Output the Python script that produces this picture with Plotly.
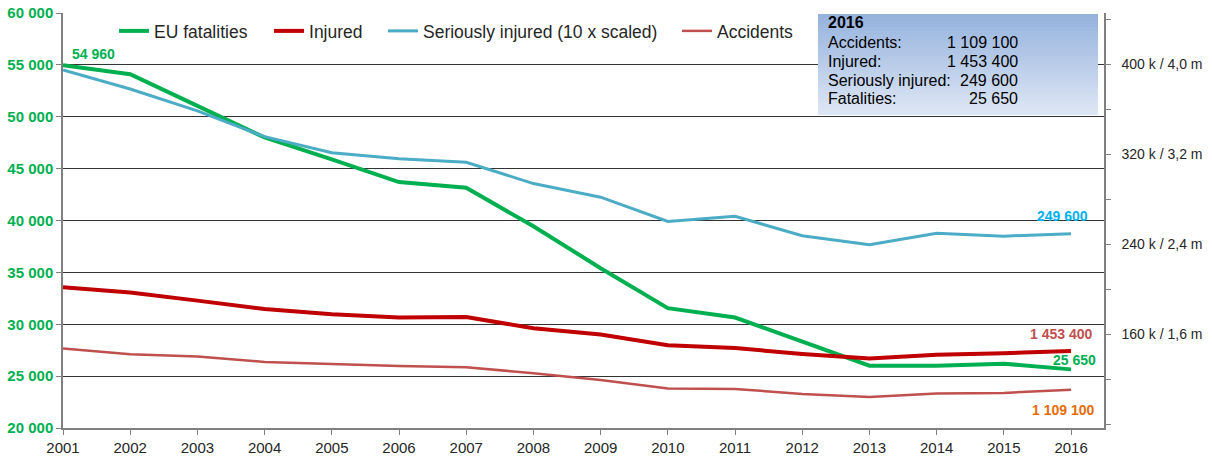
import plotly.graph_objects as go

# Dados
years = list(range(2001, 2017))
fatalities = [54960, 54100, 51050, 48000, 45900, 43700, 43150, 39450,
              35400, 31550, 30650, 28300, 26000, 26000, 26200, 25650]
injured = [2019000, 1974000, 1901000, 1826000, 1779000, 1750000, 1755000, 1655000,
           1599000, 1504000, 1480000, 1427000, 1386000, 1421000, 1433000, 1453400]
seriously_injured = [395000, 378200, 358700, 335800, 321600, 316100, 313000, 294100,
                     282000, 260400, 265100, 247700, 239700, 249900, 247400, 249600]
accidents = [1475000, 1424000, 1404000, 1356000, 1338000, 1320000, 1309000, 1256000,
             1196000, 1120000, 1116000, 1072000, 1045000, 1075000, 1081000, 1109100]

serious_scale = 10
right_tickvals = [800000, 1200000, 1600000, 2000000, 2400000, 2800000,
                  3200000, 3600000, 4000000, 4400000]
right_ticktext = ["", "", "160 k / 1,6 m", "", "240 k / 2,4 m", "",
                  "320 k / 3,2 m", "", "400 k / 4,0 m", ""]

GREEN = "#00B050"
FONT = "Liberation Sans, Arial, sans-serif"


def fmt(v):
    return f"{v:,.0f}".replace(",", " ")


fig = go.Figure()
fig.add_trace(go.Scatter(x=years, y=fatalities, name="EU fatalities", mode="lines",
                         line=dict(color=GREEN, width=4), legend="legend"))
fig.add_trace(go.Scatter(x=years, y=injured, name="Injured", mode="lines",
                         line=dict(color="#C00000", width=4), yaxis="y2", legend="legend2"))
fig.add_trace(go.Scatter(x=years, y=[v * serious_scale for v in seriously_injured],
                         name="Seriously injured (10 x scaled)", mode="lines",
                         line=dict(color="#4BACC6", width=3), yaxis="y2", legend="legend3"))
fig.add_trace(go.Scatter(x=years, y=accidents, name="Accidents", mode="lines",
                         line=dict(color="#C0504D", width=2.5), yaxis="y2", legend="legend4"))

# Rótulos de dados
labels = [
    dict(x=years[0], y=fatalities[0], yref="y", text=fmt(fatalities[0]), color=GREEN,
         xanchor="left", xshift=7, yshift=11),
    dict(x=years[-1], y=seriously_injured[-1] * serious_scale, yref="y2",
         text=fmt(seriously_injured[-1]), color="#00B0F0", xanchor="right", xshift=19, yshift=18),
    dict(x=years[-1], y=injured[-1], yref="y2", text=fmt(injured[-1]), color="#C0504D",
         xanchor="right", xshift=23, yshift=17),
    dict(x=years[-1], y=fatalities[-1], yref="y", text=fmt(fatalities[-1]), color=GREEN,
         xanchor="right", xshift=27, yshift=9),
    dict(x=years[-1], y=accidents[-1], yref="y2", text=fmt(accidents[-1]), color="#E46C0A",
         xanchor="right", xshift=25, yshift=-20),
]
for lb in labels:
    fig.add_annotation(x=lb["x"], y=lb["y"], xref="x", yref=lb["yref"], text=lb["text"],
                       showarrow=False, xanchor=lb["xanchor"], yanchor="middle",
                       xshift=lb["xshift"], yshift=lb["yshift"],
                       font=dict(family=FONT, size=14, color=lb["color"], weight="bold"))

# Caixa 2016 (gradiente em faixas sobrepostas)
bx0, bx1, by0, by1 = 0.7253, 0.9942, 0.754, 0.9976
top_rgb, bot_rgb = (150, 179, 222), (221, 230, 244)
n_bands = 30
for i in range(n_bands):
    t = i / (n_bands - 1)
    c = tuple(round(bot_rgb[k] + (top_rgb[k] - bot_rgb[k]) * t) for k in range(3))
    fig.add_shape(type="rect", xref="paper", yref="paper", layer="above",
                  x0=bx0, x1=bx1, y0=by0 + (by1 - by0) * i / n_bands, y1=by1,
                  line=dict(width=0), fillcolor="rgb(%d,%d,%d)" % c)

box_labels = [str(years[-1]), "Accidents:", "Injured:", "Seriously injured:", "Fatalities:"]
box_values = ["", fmt(accidents[-1]), fmt(injured[-1]), fmt(seriously_injured[-1]), fmt(fatalities[-1])]
row_y = [23, 42, 61, 80, 99]
for i, (lab, val) in enumerate(zip(box_labels, box_values)):
    yp = (428 - row_y[i]) / 415
    fig.add_annotation(x=0.7330, y=yp, xref="paper", yref="paper", text=lab, showarrow=False,
                       xanchor="left", yanchor="middle",
                       font=dict(family=FONT, size=16, color="black",
                                 weight="bold" if i == 0 else "normal"))
    if val:
        fig.add_annotation(x=0.9193, y=yp, xref="paper", yref="paper", text=val, showarrow=False,
                           xanchor="right", yanchor="middle",
                           font=dict(family=FONT, size=16, color="black"))

# uma legenda por série, para reproduzir os espaçamentos
legend_x = [0.049, 0.1979, 0.3074, 0.5898]
leg_common = dict(orientation="h", y=0.9566, xanchor="left", yanchor="middle",
                  bgcolor="rgba(0,0,0,0)", font=dict(family=FONT, size=17.5, color="#262626"))

fig.update_layout(
    width=1212, height=458,
    margin=dict(l=63, r=108, t=13, b=30),
    paper_bgcolor="white", plot_bgcolor="white",
    separators=", ",
    showlegend=True,
    legend=dict(x=legend_x[0], **leg_common),
    legend2=dict(x=legend_x[1], **leg_common),
    legend3=dict(x=legend_x[2], **leg_common),
    legend4=dict(x=legend_x[3], **leg_common),
    xaxis=dict(range=[2001, 2016.49], tickmode="linear", tick0=2001, dtick=1, automargin=False,
               showgrid=False, zeroline=False, showline=True, linecolor="#808080", linewidth=1.5,
               ticks="outside", ticklen=5, tickcolor="#808080", ticklabeloverflow="allow",
               tickfont=dict(family=FONT, size=15, color="#262626")),
    yaxis=dict(range=[20000, 60000], dtick=5000, tickformat=",d", automargin=False,
               showgrid=True, gridcolor="#333333", gridwidth=1, zeroline=False,
               showline=True, linecolor="#808080", linewidth=1.5,
               ticks="outside", ticklen=5, tickcolor="#808080", ticklabeloverflow="allow",
               tickfont=dict(family=FONT, size=15, color=GREEN, weight="bold")),
    yaxis2=dict(overlaying="y", side="right", range=[769000, 4457000], automargin=False,
                tickmode="array", tickvals=right_tickvals, ticktext=right_ticktext,
                showgrid=False, zeroline=False, showline=True, linecolor="#808080", linewidth=1.5,
                ticks="outside", ticklen=5, tickcolor="#808080", ticklabelstandoff=8,
                ticklabeloverflow="allow",
                tickfont=dict(family=FONT, size=14, color="#262626")),
)

# tira a margem de 8 px do body para a figura ocupar a janela inteira
fig.write_html("out.html", config={"displayModeBar": False},
               post_script="document.body.style.margin = '0';")
